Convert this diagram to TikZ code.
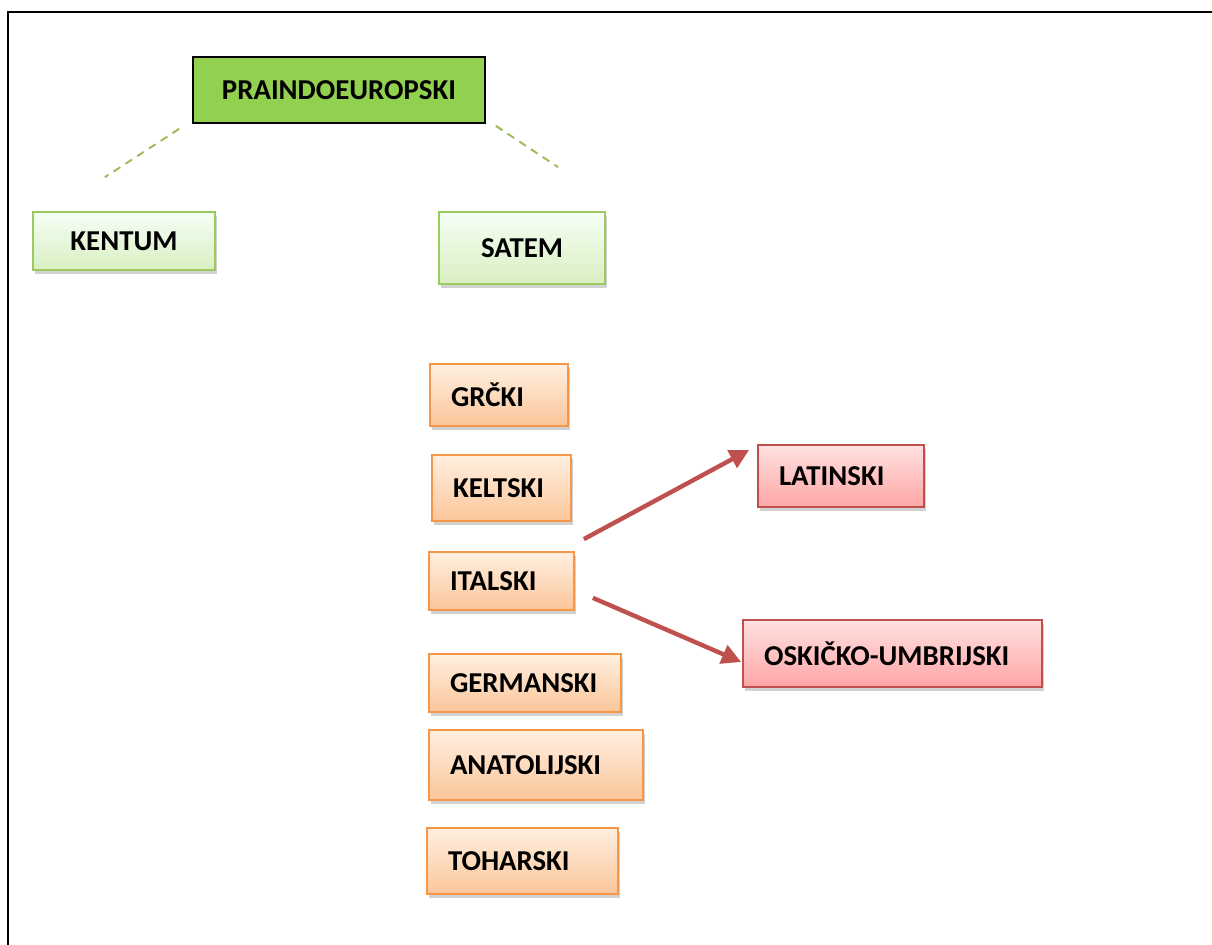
\documentclass[tikz,border=0pt]{standalone}
\usepackage{fontspec}
\setmainfont{Carlito}
\usetikzlibrary{arrows.meta,shadows,calc}

\definecolor{praigreen}{HTML}{92D050}
\definecolor{lgborder}{HTML}{9BCB5F}
\definecolor{orborder}{HTML}{F79646}
\definecolor{rdborder}{HTML}{C0504D}
\definecolor{dashgreen}{HTML}{9BBB59}

\tikzset{
	lang/.style={font=\fontsize{16.4}{19}\selectfont\bfseries, inner sep=0pt,
		drop shadow={shadow xshift=1.2pt, shadow yshift=-2.2pt, opacity=0.3, fill=black!60}},
	greenbox/.style={lang, draw=lgborder, line width=1pt, top color=green!4!white, bottom color=praigreen!35!white},
	orangebox/.style={lang, draw=orborder, line width=1pt, top color=orange!12!white, bottom color=orborder!55!white,
		align=left, inner xsep=0.42cm},
	redbox/.style={lang, draw=rdborder, line width=1pt, top color=red!12!white, bottom color=red!35!white,
		align=left, inner xsep=0.42cm},
	branch/.style={dashgreen, line width=1.1pt, dash pattern=on 4.5pt off 3.5pt},
	descent/.style={rdborder, line width=2.5pt, -{Triangle[length=11pt,width=11pt]}}
}

\begin{document}
\begin{tikzpicture}[x=0.02cm, y=-0.02cm]
	\useasboundingbox (0,0) rectangle (1212,945);
	\draw[line width=1.6pt] (8,950) -- (8,12) -- (1215,12);

	% top of the tree
	\node[font=\fontsize{16.4}{19}\selectfont\bfseries, draw=black, line width=1pt, fill=praigreen,
		minimum width=5.84cm, minimum height=1.32cm] (prai) at (339,90) {PRAINDOEUROPSKI};
	\node[greenbox, minimum width=3.64cm, minimum height=1.16cm] (kent) at (124,241) {KENTUM};
	\node[greenbox, minimum width=3.32cm, minimum height=1.44cm] (sat) at (522,248) {SATEM};

	\draw[branch] ($(prai.south west)+(-13,5)$) -- ($(kent.north)+(-19,-34)$);
	\draw[branch] ($(prai.south east)+(10,2)$) -- ($(sat.north)+(36,-44)$);

	% language groups
	\node[orangebox, text width=1.92cm, minimum height=1.24cm] (grc) at (499,395) {GRČKI};
	\node[orangebox, text width=1.94cm, minimum height=1.32cm] (kel) at (501.5,488) {KELTSKI};
	\node[orangebox, text width=2.06cm, minimum height=1.16cm] (ital) at (501.5,581) {ITALSKI};
	\node[orangebox, text width=3.00cm, minimum height=1.16cm] (germ) at (525,683) {GERMANSKI};
	\node[orangebox, text width=3.44cm, minimum height=1.40cm] (anat) at (536,765) {ANATOLIJSKI};
	\node[orangebox, text width=2.98cm, minimum height=1.32cm] (toh) at (522.5,861) {TOHARSKI};

	% italic branch
	\node[redbox, text width=2.48cm, minimum height=1.24cm] (lat) at (841,476) {LATINSKI};
	\node[redbox, text width=5.14cm, minimum height=1.34cm] (osk) at (892.5,653.5) {OSKIČKO-UMBRIJSKI};

	\draw[descent] ($(ital.north east)+(9,-12)$) -- ($(lat.west)+(-8,-26)$);
	\draw[descent] ($(ital.south east)+(18,-13)$) -- ($(osk.west)+(-1,8.5)$);
\end{tikzpicture}
\end{document}
